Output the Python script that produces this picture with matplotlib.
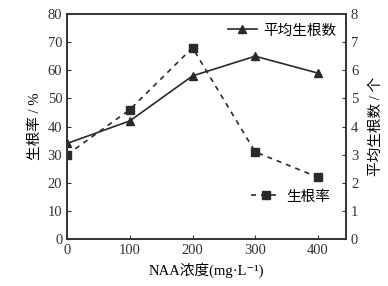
import matplotlib
matplotlib.use("Agg")
import matplotlib.pyplot as plt

plt.rcParams['font.family'] = ['Liberation Serif', 'Noto Sans CJK SC', 'DejaVu Sans']

naa = [0, 100, 200, 300, 400]
rooting_rate = [30, 46, 68, 31, 22]
avg_roots = [3.4, 4.2, 5.8, 6.5, 5.9]
x_ticks = [0, 100, 200, 300, 400]
left_ticks = [0, 10, 20, 30, 40, 50, 60, 70, 80]
right_ticks = [0, 1, 2, 3, 4, 5, 6, 7, 8]

fig = plt.figure(figsize=(3.88, 2.86), dpi=100)
ax = fig.add_axes([0.173, 0.164, 0.719, 0.787])
ax2 = ax.twinx()

c = '#2a2a2a'
l1, = ax.plot(naa, rooting_rate, linestyle=(0, (3, 3)), color=c, lw=1.2,
              marker='s', ms=5.5, label='生根率')
l2, = ax2.plot(naa, avg_roots, linestyle='-', color=c, lw=1.2,
               marker='^', ms=5.5, label='平均生根数')

ax.set_xlim(0, 445)
ax.set_ylim(0, 80)
ax2.set_ylim(0, 8)
ax.set_xticks(x_ticks)
ax.set_yticks(left_ticks)
ax2.set_yticks(right_ticks)
for a in (ax, ax2):
    a.tick_params(direction='in', length=3, labelsize=10.5, colors='#333333')
    for s in a.spines.values():
        s.set_linewidth(1.2)
        s.set_color('#333333')

ax.set_ylabel('生根率 / %', fontsize=10.5, labelpad=4)
ax2.set_ylabel('平均生根数 / 个', fontsize=10.5, rotation=90, labelpad=8)
ax.set_xlabel('NAA浓度(mg·L⁻¹)', fontsize=10.5, labelpad=4)

leg1 = ax2.legend(handles=[l2], loc='upper right', frameon=False, fontsize=10.5,
                  handlelength=2, handletextpad=0.4, borderaxespad=0.3)
ax2.add_artist(leg1)
ax2.legend(handles=[l1], loc='lower right', bbox_to_anchor=(0.99, 0.1),
           frameon=False, fontsize=10.5, handlelength=2, handletextpad=0.4)

fig.savefig('out.png', dpi=100)
